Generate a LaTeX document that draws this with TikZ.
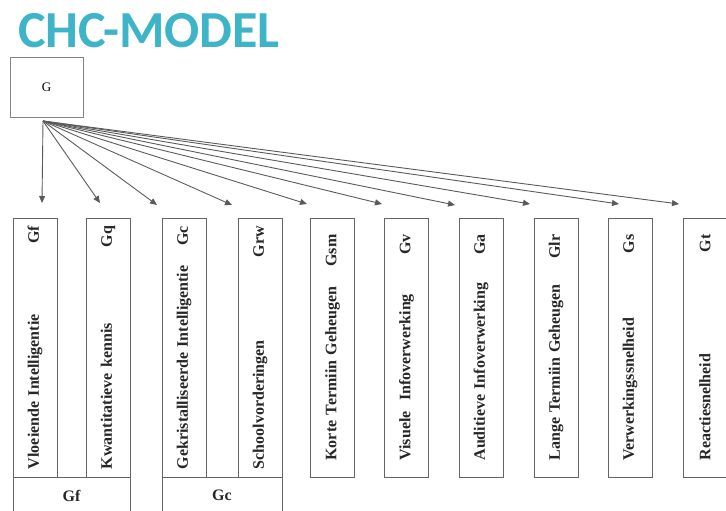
\documentclass[tikz,border=0pt]{standalone}
\usepackage{fontspec}
\setmainfont{Liberation Serif}
\newfontfamily\titlefont{Carlito}
\usepackage{tikz}
\usetikzlibrary{arrows.meta}
\definecolor{chcteal}{RGB}{62,180,201}
\definecolor{linegray}{RGB}{100,100,100}

\begin{document}
\begin{tikzpicture}[
    x = 1pt, y = -1pt,
    factor/.style = {draw=linegray, line width=1pt, rotate=90, minimum width=259pt, minimum height=44pt, inner sep=0pt, text=black!85, font=\bfseries\fontsize{16}{18}\selectfont},
    wide/.style = {text width=243pt},
    narrow/.style = {text width=226pt},
    group/.style = {draw=linegray, line width=1pt, minimum height=36pt, anchor=north, inner sep=0pt, text=black!85, font=\bfseries\fontsize{16}{18}\selectfont},
    link/.style = {->, draw=linegray!90!black, line width=0.9pt},
    > = {Triangle[length=7pt,width=6pt]}
]
\useasboundingbox (0,0) rectangle (726,511);

\node (title) [anchor=base west, inner sep=0pt, text=chcteal, font=\titlefont\bfseries\fontsize{52}{60}\selectfont] at (18,48) {CHC-MODEL};
\node (G) [draw=linegray!80, line width=0.8pt, minimum width=73pt, minimum height=60pt, font=\fontsize{13}{15}\selectfont] at (46.5,87) {G};
\coordinate (hub) at (43,121);

% broad abilities
\node (Gf)  [factor, wide]   at (35,347.5)  {Vloeiende Intelligentie\hfill Gf};
\node (Gq)  [factor, wide]   at (108,347.5) {Kwantitatieve kennis\hfill Gq};
\node (Gc)  [factor, wide]   at (184,347.5) {Gekristalliseerde Intelligentie\hfill Gc};
\node (Grw) [factor, wide]   at (260,347.5) {Schoolvorderingen\hfill Grw};
\node (Gsm) [factor, narrow] at (332.5,347.5) {Korte Termiin Geheugen\hfill Gsm};
\node (Gv)  [factor, narrow] at (406.5,347.5) {Visuele \ Infoverwerking\hfill Gv};
\node (Ga)  [factor, narrow] at (481,347.5) {Auditieve Infoverwerking\hfill Ga};
\node (Glr) [factor, narrow] at (556,347.5) {Lange Termiin Geheugen\hfill Glr};
\node (Gs)  [factor, narrow] at (630,347.5) {Verwerkingssnelheid\hfill Gs};
\node (Gt)  [factor, narrow] at (705,347.5) {Reactiesnelheid\hfill Gt};

% groups
\node (grpGf) [group, minimum width=117pt] at (71.5,477) {Gf};
\node (grpGc) [group, minimum width=120pt] at (222,477) {Gc};

% arrow ends
\coordinate (tGf)  at (42,203);
\coordinate (tGq)  at (100,203);
\coordinate (tGc)  at (157,205);
\coordinate (tGrw) at (232,205);
\coordinate (tGsm) at (307,204);
\coordinate (tGv)  at (382,204);
\coordinate (tGa)  at (455,205);
\coordinate (tGlr) at (530,204);
\coordinate (tGs)  at (619,204);
\coordinate (tGt)  at (679,204);

\draw[link] (hub) to (tGf);
\draw[link] (hub) to (tGq);
\draw[link] (hub) to (tGc);
\draw[link] (hub) to (tGrw);
\draw[link] (hub) to (tGsm);
\draw[link] (hub) to (tGv);
\draw[link] (hub) to (tGa);
\draw[link] (hub) to (tGlr);
\draw[link] (hub) to (tGs);
\draw[link] (hub) to (tGt);
\end{tikzpicture}
\end{document}
